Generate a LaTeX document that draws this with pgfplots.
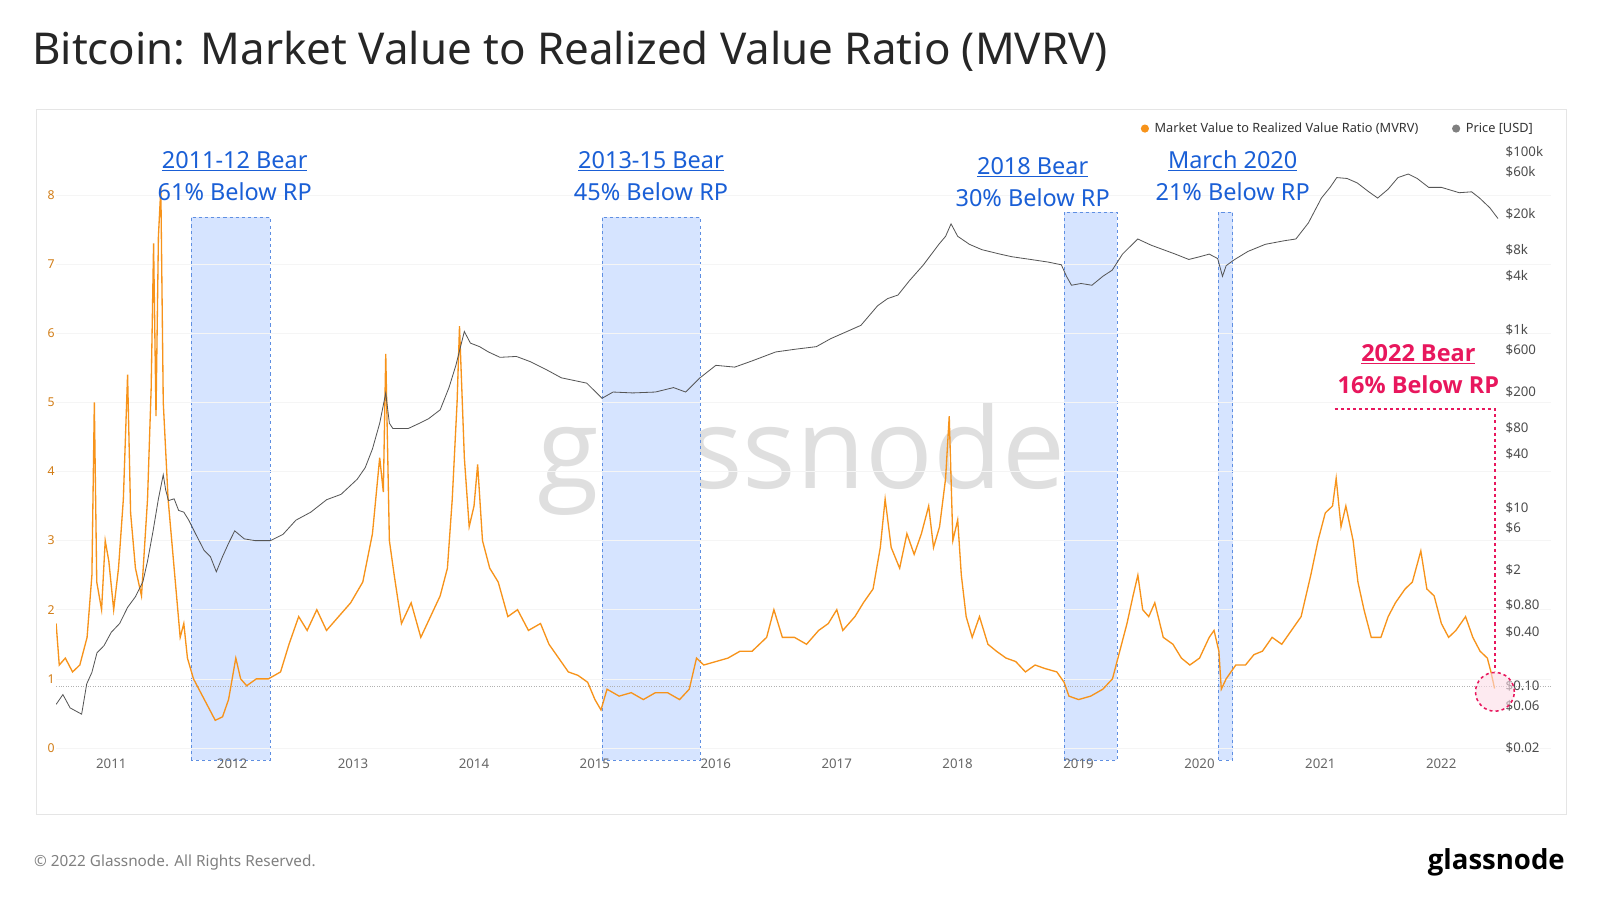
\documentclass[border=0pt]{standalone}
\usepackage{pgfplots}
\pgfplotsset{compat=1.18}
\usepackage{fontspec}
\setmainfont{Noto Sans}
\newfontfamily\bfam{Open Sans}
\definecolor{btc}{HTML}{F7931A}
\definecolor{pr}{HTML}{555555}
\definecolor{bl}{HTML}{1A5FD6}
\definecolor{bshade}{HTML}{D6E4FF}
\definecolor{pk}{HTML}{E8175D}
\begin{document}
\scalebox{1.0204}{%
\begin{tikzpicture}[x=1pt,y=1pt]
\fill[white] (0,18) rectangle (1568,900);
\draw[gray!20] (35,102) rectangle (1535,793);
\node[anchor=west,font=\fontsize{43}{46}\selectfont,text=black!85] at (28,850) {Bitcoin: Market Value to Realized Value Ratio (MVRV)};
\node[font=\fontsize{110}{110}\selectfont\bfam,text=gray!25] at (785,450) {glassnode};
\foreach \a/\b/\t in {187/265/687,590/686/687,1043/1095/692,1194/1208/692}{
  \fill[bshade] (\a,155) rectangle (\b,\t);
  \draw[bl!70,dashed] (\a,155) rectangle (\b,\t);
}
\draw[gray!60,dotted] (55,228) -- (1520,228);
\begin{axis}[scale only axis,width=1465pt,height=610pt,at={(55pt,160pt)},anchor=south west,
 xmin=2010.544,xmax=2022.907,ymin=-0.103,ymax=8.90,
 axis line style={draw=none},tick style={draw=none},
 xtick={2011,...,2022},xticklabel style={text=gray!80!black,font=\fontsize{13}{13}\selectfont},
 xticklabel={\pgfmathprintnumber[precision=0,1000 sep={}]{\tick}},
 ytick={0,...,8},yticklabel style={text=btc!85!black,font=\fontsize{12}{12}\selectfont,xshift=2pt},
 ymajorgrids,grid style={gray!8},
 /pgf/number format/assume math mode=true]
\addplot[btc,line width=1.3pt] coordinates {
(2010.544,1.8)(2010.57,1.2)(2010.62,1.3)(2010.68,1.1)(2010.74,1.2)(2010.8,1.6)(2010.84,2.5)(2010.86,5.0)(2010.88,2.4)(2010.92,2.0)(2010.95,3.0)(2010.98,2.7)(2011.02,2.0)(2011.06,2.6)(2011.1,3.6)(2011.135,5.4)(2011.16,3.4)(2011.2,2.6)(2011.25,2.2)(2011.3,3.6)(2011.33,5.2)(2011.35,7.3)(2011.37,4.8)(2011.39,7.4)(2011.41,8.1)(2011.43,5.0)(2011.47,3.6)(2011.52,2.6)(2011.57,1.6)(2011.6,1.8)(2011.63,1.3)(2011.68,1.0)(2011.74,0.8)(2011.8,0.6)(2011.86,0.4)(2011.92,0.45)(2011.97,0.7)(2012.03,1.3)(2012.07,1.0)(2012.12,0.9)(2012.2,1.0)(2012.3,1.0)(2012.4,1.1)(2012.47,1.5)(2012.55,1.9)(2012.62,1.7)(2012.7,2.0)(2012.78,1.7)(2012.88,1.9)(2012.98,2.1)(2013.08,2.4)(2013.16,3.1)(2013.22,4.2)(2013.25,3.7)(2013.27,5.7)(2013.3,3.0)(2013.34,2.5)(2013.4,1.8)(2013.48,2.1)(2013.56,1.6)(2013.64,1.9)(2013.72,2.2)(2013.78,2.6)(2013.82,3.6)(2013.86,5.0)(2013.88,6.1)(2013.92,4.2)(2013.96,3.2)(2014.0,3.5)(2014.03,4.1)(2014.07,3.0)(2014.13,2.6)(2014.2,2.4)(2014.28,1.9)(2014.36,2.0)(2014.45,1.7)(2014.55,1.8)(2014.62,1.5)(2014.7,1.3)(2014.78,1.1)(2014.86,1.05)(2014.94,0.95)(2015.0,0.7)(2015.05,0.55)(2015.1,0.85)(2015.2,0.75)(2015.3,0.8)(2015.4,0.7)(2015.5,0.8)(2015.6,0.8)(2015.7,0.7)(2015.78,0.85)(2015.84,1.3)(2015.9,1.2)(2016.0,1.25)(2016.1,1.3)(2016.2,1.4)(2016.3,1.4)(2016.42,1.6)(2016.48,2.0)(2016.55,1.6)(2016.65,1.6)(2016.75,1.5)(2016.85,1.7)(2016.93,1.8)(2017.0,2.0)(2017.05,1.7)(2017.15,1.9)(2017.22,2.1)(2017.3,2.3)(2017.36,2.9)(2017.4,3.6)(2017.45,2.9)(2017.52,2.6)(2017.58,3.1)(2017.64,2.8)(2017.7,3.1)(2017.76,3.5)(2017.8,2.9)(2017.85,3.2)(2017.9,3.9)(2017.93,4.8)(2017.96,3.0)(2018.0,3.3)(2018.03,2.5)(2018.07,1.9)(2018.12,1.6)(2018.18,1.9)(2018.25,1.5)(2018.32,1.4)(2018.4,1.3)(2018.48,1.25)(2018.56,1.1)(2018.64,1.2)(2018.72,1.15)(2018.82,1.1)(2018.88,0.95)(2018.92,0.75)(2019.0,0.7)(2019.1,0.75)(2019.2,0.85)(2019.28,1.0)(2019.34,1.4)(2019.4,1.8)(2019.45,2.2)(2019.49,2.5)(2019.53,2.0)(2019.58,1.9)(2019.63,2.1)(2019.7,1.6)(2019.78,1.5)(2019.85,1.3)(2019.92,1.2)(2020.0,1.3)(2020.08,1.6)(2020.12,1.7)(2020.16,1.4)(2020.18,0.85)(2020.22,1.0)(2020.3,1.2)(2020.38,1.2)(2020.45,1.35)(2020.52,1.4)(2020.6,1.6)(2020.68,1.5)(2020.76,1.7)(2020.84,1.9)(2020.92,2.5)(2020.98,3.0)(2021.04,3.4)(2021.1,3.5)(2021.13,3.9)(2021.17,3.2)(2021.21,3.5)(2021.27,3.0)(2021.31,2.4)(2021.36,2.0)(2021.42,1.6)(2021.5,1.6)(2021.56,1.9)(2021.62,2.1)(2021.7,2.3)(2021.76,2.4)(2021.83,2.85)(2021.88,2.3)(2021.94,2.2)(2022.0,1.8)(2022.06,1.6)(2022.12,1.7)(2022.2,1.9)(2022.26,1.6)(2022.32,1.4)(2022.38,1.3)(2022.41,1.1)(2022.44,0.86)};
\end{axis}
\begin{axis}[scale only axis,width=1465pt,height=610pt,at={(55pt,160pt)},anchor=south west,
 xmin=2010.544,xmax=2022.907,ymin=-1.78,ymax=5.215,
 axis line style={draw=none},tick style={draw=none},xtick=\empty,
 axis y line*=right,
 ytick={5,4.778,4.301,3.903,3.602,3,2.778,2.301,1.903,1.602,1,0.778,0.301,-0.097,-0.398,-1,-1.222,-1.699},
 yticklabels={\$100k,\$60k,\$20k,\$8k,\$4k,\$1k,\$600,\$200,\$80,\$40,\$10,\$6,\$2,\$0.80,\$0.40,\$0.10,\$0.06,\$0.02},
 yticklabel style={anchor=west,xshift=-48pt,text=black!70,font=\fontsize{13}{13}\selectfont}]
\addplot[pr,line width=0.8pt] coordinates {
(2010.544,-1.21)(2010.6,-1.1)(2010.66,-1.25)(2010.755,-1.32)(2010.797,-0.98)(2010.84,-0.85)(2010.882,-0.63)(2010.94,-0.55)(2011.0,-0.40)(2011.07,-0.3)(2011.135,-0.12)(2011.2,0.0)(2011.262,0.17)(2011.3,0.4)(2011.346,0.74)(2011.39,1.1)(2011.43,1.37)(2011.45,1.2)(2011.473,1.08)(2011.52,1.1)(2011.557,0.97)(2011.6,0.95)(2011.641,0.86)(2011.7,0.7)(2011.768,0.52)(2011.82,0.45)(2011.869,0.28)(2011.92,0.45)(2011.97,0.6)(2012.021,0.74)(2012.1,0.65)(2012.19,0.63)(2012.316,0.63)(2012.42,0.7)(2012.527,0.86)(2012.65,0.95)(2012.781,1.09)(2012.9,1.15)(2013.034,1.32)(2013.1,1.45)(2013.16,1.66)(2013.22,1.95)(2013.27,2.29)(2013.3,1.95)(2013.329,1.89)(2013.456,1.89)(2013.55,1.95)(2013.624,2.0)(2013.72,2.1)(2013.793,2.35)(2013.85,2.6)(2013.92,2.98)(2013.97,2.85)(2014.046,2.81)(2014.12,2.75)(2014.215,2.69)(2014.35,2.7)(2014.468,2.64)(2014.6,2.55)(2014.722,2.46)(2014.932,2.4)(2015.059,2.23)(2015.15,2.3)(2015.312,2.29)(2015.5,2.3)(2015.65,2.35)(2015.75,2.3)(2015.869,2.46)(2016.0,2.6)(2016.156,2.58)(2016.3,2.65)(2016.494,2.75)(2016.65,2.78)(2016.831,2.81)(2016.95,2.9)(2017.084,2.98)(2017.2,3.05)(2017.338,3.27)(2017.42,3.35)(2017.506,3.39)(2017.6,3.55)(2017.717,3.73)(2017.844,3.96)(2017.9,4.05)(2017.945,4.19)(2018.0,4.05)(2018.097,3.96)(2018.2,3.9)(2018.35,3.85)(2018.45,3.82)(2018.603,3.79)(2018.75,3.76)(2018.857,3.73)(2018.9,3.6)(2018.941,3.5)(2019.02,3.52)(2019.11,3.5)(2019.2,3.6)(2019.278,3.67)(2019.363,3.85)(2019.489,4.02)(2019.6,3.95)(2019.7,3.9)(2019.8,3.85)(2019.911,3.79)(2020.0,3.82)(2020.08,3.85)(2020.15,3.8)(2020.19,3.6)(2020.22,3.72)(2020.291,3.79)(2020.4,3.88)(2020.544,3.96)(2020.7,4.0)(2020.797,4.02)(2020.9,4.2)(2021.008,4.48)(2021.08,4.6)(2021.135,4.71)(2021.22,4.7)(2021.304,4.65)(2021.4,4.55)(2021.473,4.48)(2021.56,4.58)(2021.641,4.71)(2021.726,4.75)(2021.8,4.7)(2021.895,4.6)(2022.0,4.6)(2022.148,4.54)(2022.25,4.55)(2022.316,4.48)(2022.401,4.37)(2022.468,4.25)};
\end{axis}
\foreach \x/\a/\b in {230/2011-12 Bear/61\% Below RP,638/2013-15 Bear/45\% Below RP}{
 \node[text=bl,font=\fontsize{23}{23}\selectfont] at (\x,742) {\underline{\a}};
 \node[text=bl,font=\fontsize{23}{23}\selectfont] at (\x,712) {\b};}
\node[text=bl,font=\fontsize{23}{23}\selectfont] at (1012,736) {\underline{2018 Bear}};
\node[text=bl,font=\fontsize{23}{23}\selectfont] at (1012,706) {30\% Below RP};
\node[text=bl,font=\fontsize{23}{23}\selectfont] at (1208,742) {\underline{March 2020}};
\node[text=bl,font=\fontsize{23}{23}\selectfont] at (1208,712) {21\% Below RP};
\node[text=pk,font=\fontsize{23}{23}\selectfont\bfam\bfseries] at (1390,553) {\underline{2022 Bear}};
\node[text=pk,font=\fontsize{23}{23}\selectfont\bfam\bfseries] at (1390,523) {16\% Below RP};
\draw[pk,dashed,line width=1.5pt] (1308,499) -- (1465,499) -- (1465,242);
\draw[pk,dashed,line width=1.5pt,fill=pk!15,fill opacity=0.6] (1465,222) circle (19);
\fill[btc] (1122,774) circle (4);
\node[anchor=west,font=\fontsize{12.5}{12.5}\selectfont,text=black!80] at (1128,774) {Market Value to Realized Value Ratio (MVRV)};
\fill[gray] (1427,774) circle (4);
\node[anchor=west,font=\fontsize{12.5}{12.5}\selectfont,text=black!80] at (1433,774) {Price [USD]};
\node[anchor=west,font=\fontsize{15}{15}\selectfont,text=gray] at (30,55) {© 2022 Glassnode. All Rights Reserved.};
\node[anchor=east,font=\fontsize{27}{27}\selectfont\bfam\bfseries,text=black] at (1537,55) {glassnode};
\pgfresetboundingbox
\path[use as bounding box] (0,18) rectangle (1568,900);
\end{tikzpicture}}
\end{document}
